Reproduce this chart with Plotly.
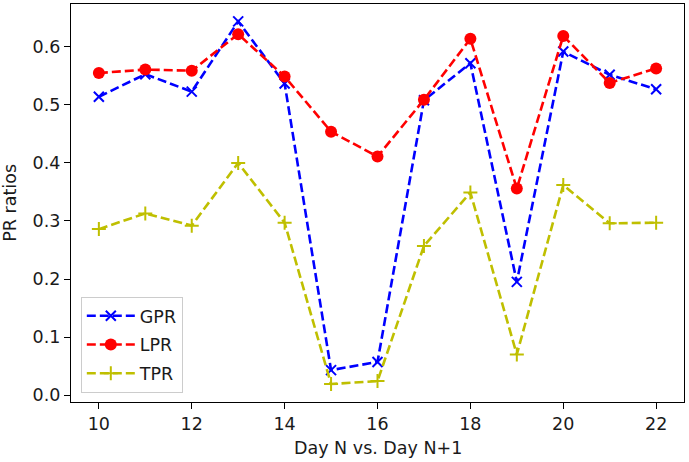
import plotly.graph_objects as go

days = list(range(10, 23))
gpr = [0.514, 0.553, 0.523, 0.644, 0.537, 0.043, 0.057, 0.508, 0.572, 0.195, 0.592, 0.552, 0.527]
lpr = [0.555, 0.561, 0.559, 0.622, 0.549, 0.454, 0.411, 0.509, 0.614, 0.356, 0.619, 0.538, 0.563]
tpr = [0.286, 0.313, 0.292, 0.400, 0.297, 0.019, 0.024, 0.257, 0.349, 0.070, 0.362, 0.296, 0.297]
x_ticks = [10, 12, 14, 16, 18, 20, 22]
y_ticks = [0.0, 0.1, 0.2, 0.3, 0.4, 0.5, 0.6]

FONT = "DejaVu Sans"
FS = 17.5
TXT = "#1a1a1a"
dash = "9px,4px"
fig = go.Figure()
fig.add_trace(go.Scatter(x=days, y=gpr, name="GPR", mode="lines+markers", legendgroup="g",
                         line=dict(color="#0000ff", width=2.6, dash=dash),
                         marker=dict(symbol="x-thin", size=10, line=dict(color="#0000ff", width=2))))
fig.add_trace(go.Scatter(x=days, y=lpr, name="LPR", mode="lines+markers", legendgroup="l",
                         line=dict(color="#ff0000", width=2.6, dash=dash),
                         marker=dict(symbol="circle", size=12, color="#ff0000")))
fig.add_trace(go.Scatter(x=days, y=tpr, name="TPR", mode="lines+markers", legendgroup="t",
                         line=dict(color="#bfbf00", width=2.6, dash=dash),
                         marker=dict(symbol="cross-thin", size=10, line=dict(color="#bfbf00", width=2))))

axis_common = dict(showline=True, linecolor="black", linewidth=1.2, mirror=True,
                   ticks="outside", ticklen=6, tickwidth=1.2, tickcolor="black",
                   showgrid=False, zeroline=False, automargin=False,
                   tickfont=dict(family=FONT, size=FS, color=TXT))
fig.update_xaxes(range=[9.4, 22.6], tickvals=x_ticks, ticktext=[str(t) for t in x_ticks],
                 **axis_common)
fig.update_yaxes(range=[-0.012, 0.674], tickvals=y_ticks, ticktext=[f"{t:.1f}" for t in y_ticks],
                 **axis_common)
fig.add_annotation(text="Day N vs. Day N+1", xref="paper", yref="paper", x=0.5, y=-0.115,
                   xanchor="center", yanchor="middle", showarrow=False,
                   font=dict(family=FONT, size=FS, color=TXT))
fig.add_annotation(text="PR ratios", xref="paper", yref="paper", x=-0.1,
                   y=0.5, xanchor="center", yanchor="middle", showarrow=False, textangle=-90,
                   font=dict(family=FONT, size=FS, color=TXT))
fig.update_layout(width=689, height=462, margin=dict(l=71, r=5, t=4, b=60),
                  plot_bgcolor="white", paper_bgcolor="white",
                  font=dict(family=FONT, size=FS, color=TXT),
                  legend=dict(x=0.016, y=0.023, xanchor="left", yanchor="bottom",
                              bgcolor="rgba(255,255,255,0.8)", bordercolor="#cccccc", borderwidth=1,
                              font=dict(family=FONT, size=FS, color=TXT),
                              itemwidth=48, tracegroupgap=3))
fig.write_html("out.html", config={"displayModeBar": False},
               post_script="document.body.style.margin='0';document.body.style.overflow='hidden';")
